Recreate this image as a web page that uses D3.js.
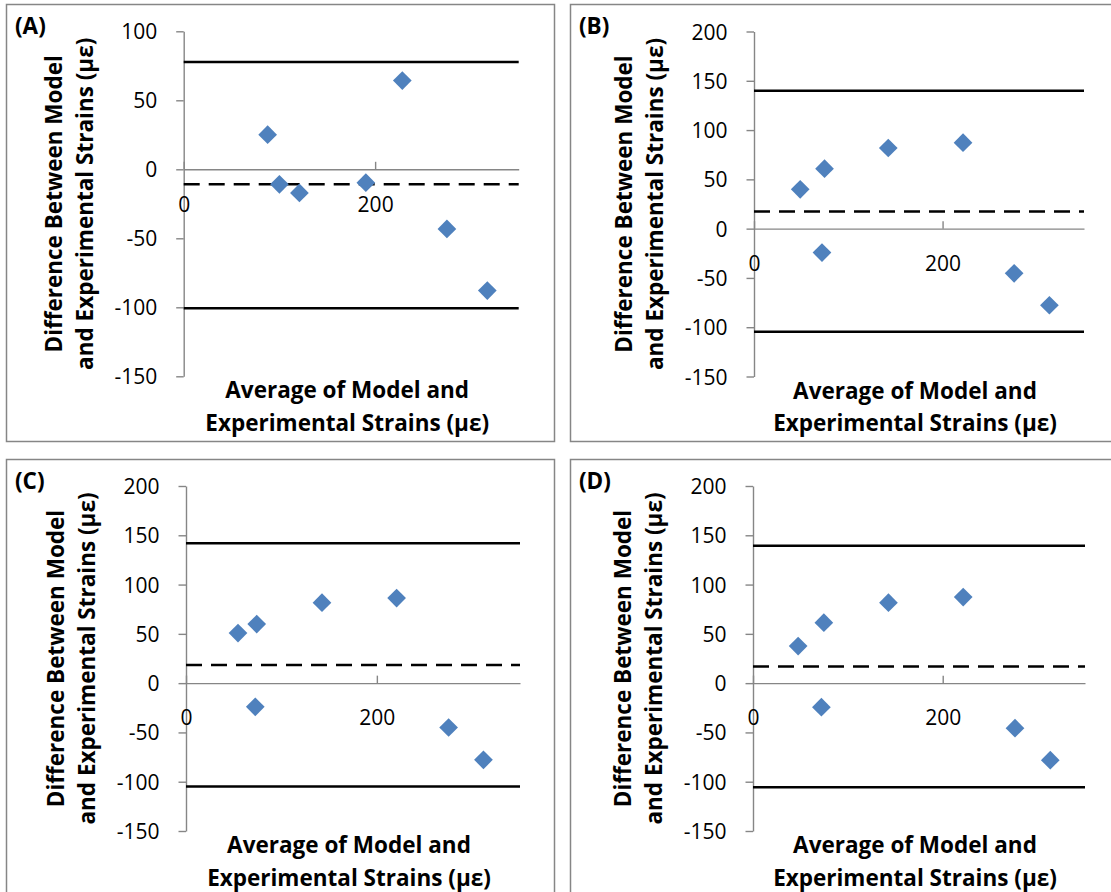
<!DOCTYPE html>
<html>
<head>
<meta charset="utf-8">
<script src="https://cdn.jsdelivr.net/npm/d3@7"></script>
<style>
  body { margin: 0; background: #fff; }
  text { font-family: "Open Sans", sans-serif; }
</style>
</head>
<body>
<script>
// Bland-Altman plots, four panels
const panelLabels = ["(A)", "(B)", "(C)", "(D)"];

// x: average of model and experimental strains, y: difference between them
const avgA = [87.7, 100, 120.9, 190.3, 228.4, 275, 317.2];
const diffA = [25.1, -10.9, -17.1, -9.7, 64.3, -43.2, -87.9];
const avgB = [49, 74.8, 72.1, 142.4, 221.7, 275.9, 313.3];
const diffB = [39.9, 60.8, -24.3, 81.8, 87.2, -45.3, -77.7];
const avgC = [54.5, 74.1, 72.6, 142.5, 220.7, 275.2, 311.7];
const diffC = [50.8, 59.9, -24.0, 81.6, 86.3, -45.0, -77.8];
const avgD = [47.6, 74.7, 72.1, 142.8, 221.6, 276.2, 313.4];
const diffD = [37.6, 61.3, -24.4, 81.6, 87.3, -45.7, -78.2];

// mean difference (dashed) and limits of agreement (solid), one per panel
const meanDiff = [-10.9, 17.4, 18.4, 16.9];
const upperLimit = [77.8, 140, 141.8, 139.4];
const lowerLimit = [-100.7, -104.5, -104.9, -105.6];

const xTicks = [0, 200];
const yTicksA = [-150, -100, -50, 0, 50, 100];
const yTicksBCD = [-150, -100, -50, 0, 50, 100, 150, 200];

const xTitle = ["Average of Model and", "Experimental Strains (με)"];
const yTitle = ["Difference Between Model", "and Experimental Strains (με)"];

const W = 1111, H = 892;
const svg = d3.select("body").append("svg")
    .attr("width", W)
    .attr("height", H);

const axisGrey = "#868686";
const blue = "#4F81BD";
const titleSize = "22.5px";

let panels = [
    { xs: avgA, ys: diffA, yTicks: yTicksA, yMax: 100,
      box: [6, 4, 548, 437], plot: { left: 183.7, right: 518.7, top: 31.3, bottom: 376.3 } },
    { xs: avgB, ys: diffB, yTicks: yTicksBCD, yMax: 200,
      box: [570, 4, 560, 437], plot: { left: 754, right: 1084, top: 31.5, bottom: 376.5 } },
    { xs: avgC, ys: diffC, yTicks: yTicksBCD, yMax: 200,
      box: [6, 459, 548, 450], plot: { left: 186, right: 520, top: 486, bottom: 831 } },
    { xs: avgD, ys: diffD, yTicks: yTicksBCD, yMax: 200,
      box: [570, 459, 560, 450], plot: { left: 753, right: 1085, top: 486, bottom: 831 } }
];

panels.forEach((p, i) => {
    let g = svg.append("g");

    g.append("rect")
        .attr("x", p.box[0] + 0.5)
        .attr("y", p.box[1] + 0.5)
        .attr("width", p.box[2])
        .attr("height", p.box[3])
        .attr("fill", "#fff")
        .attr("stroke", axisGrey)
        .attr("stroke-width", 1.5);

    let x = d3.scaleLinear()
        .domain([0, 350])
        .range([p.plot.left, p.plot.right]);

    let y = d3.scaleLinear()
        .domain([-150, p.yMax])
        .range([p.plot.bottom, p.plot.top]);

    // plain hyphen for negatives, like the original
    let fmt = d => String(d);

    // y axis
    let ya = g.append("g")
        .attr("transform", "translate(" + x(0) + ",0)")
        .call(d3.axisLeft(y)
            .tickValues(p.yTicks)
            .tickFormat(fmt)
            .tickSize(7.5)
            .tickSizeOuter(0)
            .tickPadding(19));

    // x axis sits on y = 0, ticks point up, labels hang well below
    let xa = g.append("g")
        .attr("transform", "translate(0," + y(0) + ")")
        .call(d3.axisBottom(x)
            .tickValues(xTicks)
            .tickFormat(fmt)
            .tickSize(-7.5)
            .tickSizeOuter(0)
            .tickPadding(27.4));

    [ya, xa].forEach(a => {
        a.attr("font-family", null).attr("font-size", null);
        a.selectAll("path, line")
            .attr("stroke", axisGrey)
            .attr("stroke-width", 1.4);
        a.selectAll("text")
            .attr("fill", "#000")
            .style("font-size", "21px");
    });
    ya.selectAll("text").attr("dy", "0.36em");

    // limits of agreement
    [upperLimit[i], lowerLimit[i]].forEach(v => {
        g.append("line")
            .attr("x1", x(0)).attr("x2", x(350))
            .attr("y1", y(v)).attr("y2", y(v))
            .attr("stroke", "#000")
            .attr("stroke-width", 2.5);
    });

    // mean difference
    g.append("line")
        .attr("x1", x(0)).attr("x2", x(350))
        .attr("y1", y(meanDiff[i])).attr("y2", y(meanDiff[i]))
        .attr("stroke", "#000")
        .attr("stroke-width", 2.5)
        .attr("stroke-dasharray", "16,9");

    // points
    let pts = d3.range(p.xs.length).map(k => ({ a: p.xs[k], d: p.ys[k] }));
    g.selectAll(".pt")
        .data(pts)
        .enter().append("path")
        .attr("class", "pt")
        .attr("d", d3.symbol(d3.symbolSquare, 175))
        .attr("transform", d => "translate(" + x(d.a) + "," + y(d.d) + ") rotate(45)")
        .attr("fill", blue);

    // axis titles
    let cx = (p.plot.left + p.plot.right) / 2 - 4;
    xTitle.forEach((t, k) => {
        g.append("text")
            .attr("x", cx)
            .attr("y", p.plot.bottom + 22 + k * 32.5)
            .attr("text-anchor", "middle")
            .style("font-size", titleSize)
            .style("font-weight", "bold")
            .text(t);
    });

    let cy = (p.plot.top + p.plot.bottom) / 2;
    yTitle.forEach((t, k) => {
        g.append("text")
            .attr("transform", "translate(" + (p.plot.left - 122 + k * 31) + "," + cy + ") rotate(-90)")
            .attr("text-anchor", "middle")
            .style("font-size", titleSize)
            .style("font-weight", "bold")
            .text(t);
    });

    g.append("text")
        .attr("x", p.box[0] + 9)
        .attr("y", p.box[1] + 30)
        .style("font-size", titleSize)
        .style("font-weight", "bold")
        .text(panelLabels[i]);
});
</script>
</body>
</html>
